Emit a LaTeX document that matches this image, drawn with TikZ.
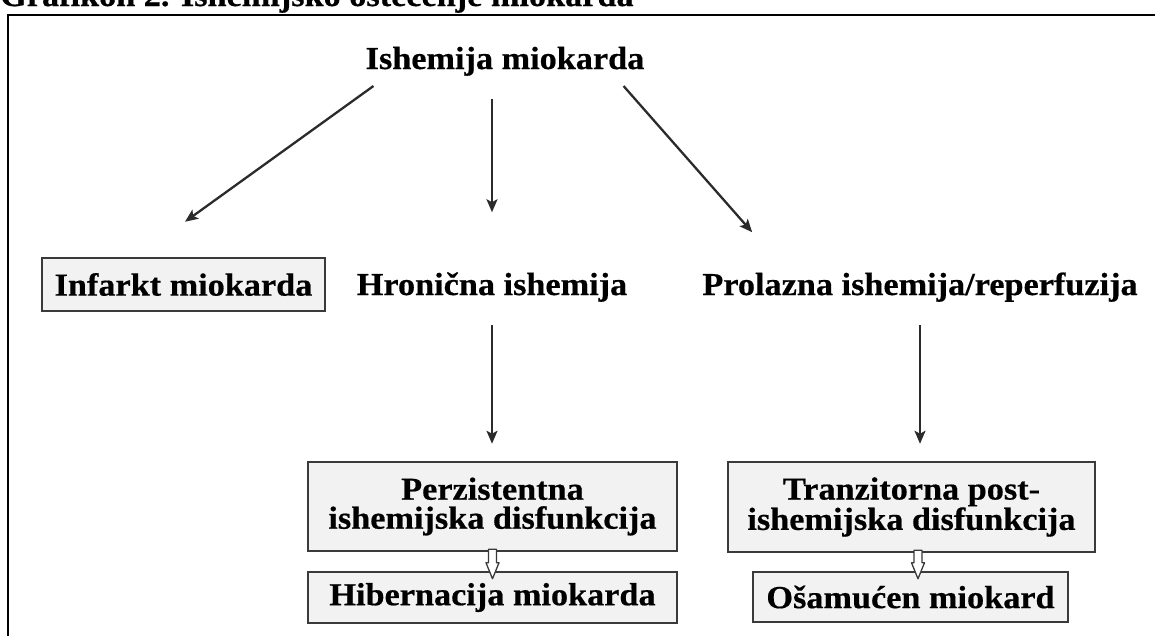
\documentclass[tikz,border=0pt]{standalone}
\usepackage{fontspec}
\setmainfont{Liberation Serif}[FakeStretch=1.07, BoldFeatures={FakeBold=0.5}]
\usetikzlibrary{arrows.meta,calc}
\definecolor{boxfill}{HTML}{F2F2F2}
\definecolor{boxline}{HTML}{3A3A3A}
\definecolor{arrcol}{HTML}{2B2B2B}
\tikzset{
  lbl/.style={font=\fontsize{32}{29}\selectfont\bfseries, inner sep=0pt, text=black},
  box/.style={lbl, draw=boxline, fill=boxfill, line width=2.5pt, align=center},
  arr/.style={draw=arrcol, line width=2.3pt, -{Stealth[length=13pt,width=11pt,inset=3pt]}},
  hollow/.style={draw=boxline, fill=white, line width=1.3pt, line join=round},
  frameline/.style={draw=black, line width=2pt}
}
\newcommand{\hollowarr}[3]{%
  \draw[hollow] let \p1=(#1.south), \p2=(#2.north) in
   ({\x1+#3pt-4pt},{\y1+3pt}) -- ({\x1+#3pt-4pt},{\y2+8pt}) -- ({\x1+#3pt-6.5pt},{\y2+8pt}) --
   ({\x1+#3pt},{\y2-8pt}) -- ({\x1+#3pt+6.5pt},{\y2+8pt}) -- ({\x1+#3pt+4pt},{\y2+8pt}) --
   ({\x1+#3pt+4pt},{\y1+3pt}) -- cycle;}
\begin{document}
\begin{tikzpicture}[x=1pt,y=-1pt]
\useasboundingbox (0,0) rectangle (1155,635);
\clip (0,0) rectangle (1155,635);
% title (cut off at top) and frame
\node[lbl, anchor=base west] (title) at (0,6) {Grafikon 2. Ishemijsko oštećenje miokarda};
\coordinate (fbl) at (8,640);
\coordinate (ftl) at (8,15);
\coordinate (ftr) at (1160,15);
\draw[frameline] (fbl) -- (ftl) -- (ftr);
% nodes
\node[lbl, anchor=base] (top) at (505,69) {Ishemija miokarda};
\node[box, minimum width=283pt, minimum height=53pt] (inf) at (183.5,284.5) {Infarkt miokarda};
\node[lbl, anchor=base] (hron) at (492,295) {Hronična ishemija};
\node[lbl, anchor=base] (prol) at (920,295) {Prolazna ishemija/reperfuzija};
\node[box, minimum width=369pt, minimum height=89pt] (perz) at (492.5,506.5) {Perzistentna\\ishemijska disfunkcija};
\node[box, minimum width=369pt, minimum height=51pt] (hib) at (492.5,597.5) {Hibernacija miokarda};
\node[box, minimum width=367pt, minimum height=90pt] (tran) at (911.5,507) {Tranzitorna post-\\ishemijska disfunkcija};
\node[box, minimum width=315pt, minimum height=50pt] (osam) at (910.5,597) {Ošamućen miokard};
% arrows
\draw[arr] ($(top.south west)+(8,10)$) -- ($(inf.north)+(1.5,-35)$);
\draw[arr] ($(top.south -| hron.north)+(0,23)$) -- ($(hron.north)+(0,-60)$);
\draw[arr] ($(top.south east)+(-21,10)$) -- ($(prol.north west)+(50,-40)$);
\draw[arr] ($(hron.south)+(0,23)$) -- ($(hron.south |- perz.north)+(0,-17)$);
\draw[arr] ($(prol.south)+(0,23)$) -- ($(prol.south |- tran.north)+(0,-17)$);
% hollow block arrows
\hollowarr{perz}{hib}{0}
\hollowarr{tran}{osam}{6.5}
\end{tikzpicture}
\end{document}
